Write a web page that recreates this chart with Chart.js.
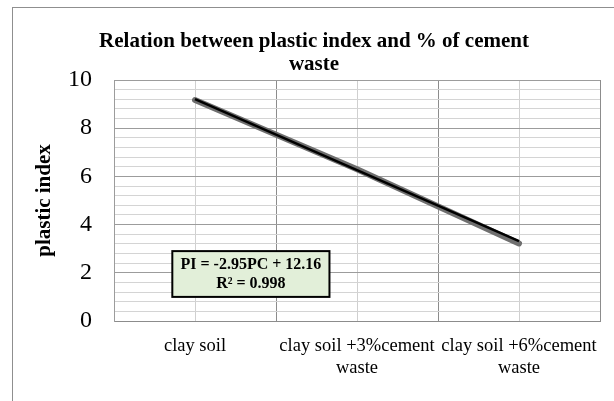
<!DOCTYPE html>
<html>
<head>
<meta charset="utf-8">
<script src="https://cdn.jsdelivr.net/npm/chart.js@4/dist/chart.umd.min.js"></script>
<style>
  html, body { margin: 0; padding: 0; background: #ffffff; }
  #wrap { width: 614px; height: 401px; position: relative; }
</style>
</head>
<body>
<div id="wrap"><canvas id="c" width="614" height="401"></canvas></div>
<script>
// ---- data ----
const categories = [["clay soil"], ["clay soil +3%cement", "waste"], ["clay soil +6%cement", "waste"]];
const plasticIndex = [9.17, 6.3, 3.22];
const trendValues = [9.21, 6.26, 3.31];   // PI = -2.95PC + 12.16 at PC = 1,2,3
const yMajorLabels = [0, 2, 4, 6, 8, 10];
const chartTitle = ["Relation between plastic index and % of cement", "waste"];
const yAxisTitle = "plastic index";
const equationLines = ["PI = -2.95PC + 12.16", "R² = 0.998"];

const SERIF = "'Liberation Serif', 'Times New Roman', serif";
const isInt = v => Math.abs(v - Math.round(v)) < 1e-6;
const isMajorY = v => Math.abs(v / 2 - Math.round(v / 2)) < 1e-6;

const decorations = {
  id: 'decorations',
  beforeDraw(chart) {
    const ctx = chart.ctx;
    ctx.save();
    ctx.fillStyle = '#ffffff';
    ctx.fillRect(0, 0, chart.width, chart.height);
    ctx.strokeStyle = '#8f8f8f';
    ctx.lineWidth = 1;
    ctx.strokeRect(12.5, 7.5, 700, 500);
    ctx.restore();
  },
  afterDraw(chart) {
    const ctx = chart.ctx;
    ctx.save();
    // title
    ctx.fillStyle = '#000';
    ctx.font = "bold 21px " + SERIF;
    ctx.textAlign = 'center';
    ctx.textBaseline = 'middle';
    ctx.fillText(chartTitle[0], 314, 42);
    ctx.fillText(chartTitle[1], 314, 65);
    // equation box
    const x = chart.scales.x, y = chart.scales.y;
    const l = x.getPixelForValue(-0.14), r = x.getPixelForValue(0.83);
    const t = y.getPixelForValue(2.9), b = y.getPixelForValue(1.0);
    ctx.fillStyle = '#e2efd9';
    ctx.fillRect(l, t, r - l, b - t);
    ctx.strokeStyle = '#000';
    ctx.lineWidth = 2;
    ctx.strokeRect(l, t, r - l, b - t);
    ctx.fillStyle = '#000';
    ctx.font = "bold 16px " + SERIF;
    const cx = (l + r) / 2;
    ctx.fillText(equationLines[0], cx, t + 14);
    ctx.fillText(equationLines[1], cx, t + 33);
    ctx.restore();
  }
};

new Chart(document.getElementById('c'), {
  type: 'line',
  data: {
    datasets: [
      {
        label: 'trend',
        data: trendValues.map((v, i) => ({ x: i, y: v })),
        borderColor: '#000000',
        borderWidth: 2.5,
        pointRadius: 0,
        fill: false,
        tension: 0,
        order: 0
      },
      {
        label: 'plastic index',
        data: plasticIndex.map((v, i) => ({ x: i, y: v })),
        borderColor: '#6f6f6f',
        borderWidth: 6,
        borderCapStyle: 'round',
        borderJoinStyle: 'round',
        pointRadius: 0,
        fill: false,
        tension: 0,
        order: 1
      }
    ]
  },
  plugins: [decorations],
  options: {
    responsive: false,
    animation: false,
    devicePixelRatio: 1,
    layout: { padding: { top: 80, left: 32, right: 11, bottom: 0 } },
    plugins: { legend: { display: false }, title: { display: false }, tooltip: { enabled: false } },
    scales: {
      x: {
        type: 'linear',
        min: -0.5, max: 2.5,
        afterFit: s => { s.height = 80; },
        ticks: {
          stepSize: 0.5,
          autoSkip: false,
          maxRotation: 0, minRotation: 0,
          padding: 14,
          color: '#000',
          font: { family: SERIF, size: 18.5, lineHeight: 1.2 },
          callback: v => isInt(v) ? categories[Math.round(v)] : ''
        },
        grid: {
          drawTicks: false,
          lineWidth: 1,
          color: c => isInt(c.tick.value) ? '#d0d0d0' : '#8c8c8c'
        },
        border: { display: true, color: '#8c8c8c' }
      },
      y: {
        min: 0, max: 10,
        afterFit: s => { s.width = 82; },
        title: {
          display: true, text: yAxisTitle, color: '#000',
          font: { family: SERIF, size: 21, weight: 'bold' },
          padding: { top: 0, bottom: 0 }
        },
        ticks: {
          stepSize: 0.4,
          autoSkip: false,
          padding: 22,
          color: '#000',
          font: { family: SERIF, size: 24 },
          callback: v => (isMajorY(v) && yMajorLabels.includes(Math.round(v))) ? String(Math.round(v)) : ''
        },
        grid: {
          drawTicks: false,
          lineWidth: 1,
          color: c => isMajorY(c.tick.value) ? '#9c9c9c' : '#d4d4d4'
        },
        border: { display: true, color: '#9c9c9c' }
      }
    }
  }
});
</script>
</body>
</html>
